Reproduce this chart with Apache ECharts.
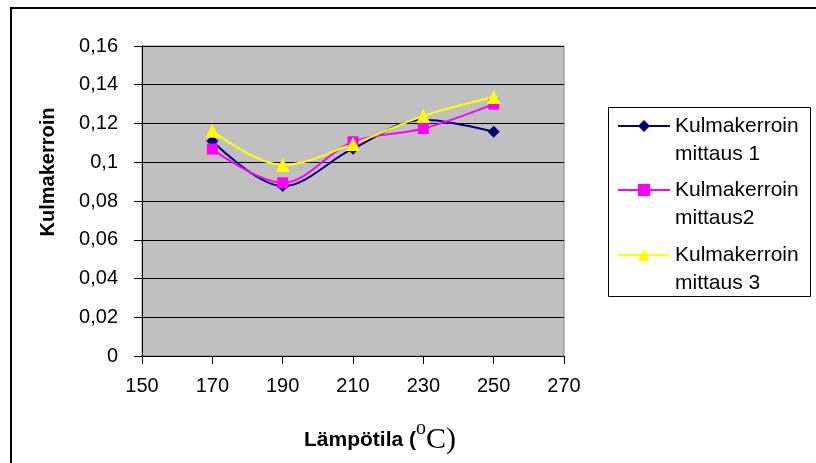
<!DOCTYPE html>
<html>
<head>
<meta charset="utf-8">
<script src="https://cdn.jsdelivr.net/npm/echarts@6/dist/echarts.min.js"></script>
<style>
  html, body { margin: 0; padding: 0; background: #fff; }
  #chart { width: 816px; height: 463px; }
</style>
</head>
<body>
<div id="chart"></div>
<script>
// Lämpötila (°C)
var temperatures = [170, 190, 210, 230, 250];
// Kulmakerroin per measurement
var mittaus1 = [0.111, 0.0877, 0.107, 0.122, 0.1157];
var mittaus2 = [0.1068, 0.0894, 0.1106, 0.1174, 0.1300];
var mittaus3 = [0.1162, 0.0986, 0.1094, 0.1239, 0.1337];
var seriesNames = ['Kulmakerroin\nmittaus 1', 'Kulmakerroin\nmittaus2', 'Kulmakerroin\nmittaus 3'];

var SANS = '"Liberation Sans", Arial, sans-serif';
var SERIF = '"Liberation Serif", "Times New Roman", serif';

function pairs(xs, ys) {
  return xs.map(function (x, i) { return [x, ys[i]]; });
}

function fmtComma(v) {
  return String(parseFloat(v.toFixed(4))).replace('.', ',');
}

function makeSeries(name, values, color, symbol, size) {
  return {
    name: name,
    type: 'line',
    smooth: 0.35,
    data: pairs(temperatures, values),
    symbol: symbol,
    symbolSize: size,
    lineStyle: { color: color, width: 2 },
    itemStyle: { color: color },
    emphasis: { disabled: true }
  };
}

function legendAt(name, top) {
  return {
    data: [name],
    left: 617,
    top: top,
    padding: 0,
    orient: 'vertical',
    itemWidth: 52,
    itemHeight: 15,
    selectedMode: false,
    formatter: function (n) { return '\n' + n; },
    textStyle: { fontFamily: SANS, fontSize: 21, color: '#000', lineHeight: 28 }
  };
}

var chart = echarts.init(document.getElementById('chart'), null, { renderer: 'canvas' });

chart.setOption({
  animation: false,
  backgroundColor: '#fff',
  grid: {
    left: 142, top: 46, right: 252, bottom: 107,
    show: true,
    backgroundColor: '#C0C0C0',
    borderColor: '#808080',
    borderWidth: 1
  },
  xAxis: {
    type: 'value',
    min: 150, max: 270, interval: 20,
    axisLine: { show: true, onZero: false, lineStyle: { color: '#000', width: 1 } },
    axisTick: { show: true, length: 8, lineStyle: { color: '#000' } },
    axisLabel: { color: '#000', fontFamily: SANS, fontSize: 20, margin: 20 },
    splitLine: { show: false },
    name: '{a|Lämpötila (}{s|o}{c|C)}',
    nameLocation: 'middle',
    nameGap: 63,
    nameTextStyle: {
      padding: [0, 0, 0, 54],
      rich: {
        a: { fontFamily: SANS, fontWeight: 'bold', fontSize: 21, color: '#000' },
        s: { fontFamily: SERIF, fontSize: 20, color: '#000', padding: [0, 0, 22, 0] },
        c: { fontFamily: SERIF, fontSize: 30, color: '#000' }
      }
    }
  },
  yAxis: {
    type: 'value',
    min: 0, max: 0.16, interval: 0.02,
    axisLine: { show: true, lineStyle: { color: '#000', width: 1 } },
    axisTick: { show: true, length: 8, lineStyle: { color: '#000' } },
    axisLabel: { color: '#000', fontFamily: SANS, fontSize: 20, margin: 24, formatter: fmtComma },
    splitLine: { show: true, lineStyle: { color: '#000', width: 1 } },
    name: 'Kulmakerroin',
    nameLocation: 'middle',
    nameGap: 84,
    nameTextStyle: { fontFamily: SANS, fontWeight: 'bold', fontSize: 20, color: '#000', padding: [0, 0, 0, 58] }
  },
  legend: [
    legendAt(seriesNames[0], 84),
    legendAt(seriesNames[1], 148),
    legendAt(seriesNames[2], 213)
  ],
  graphic: [
    {
      type: 'polyline',
      silent: true,
      shape: { points: [[11, 463], [11, 8], [816, 8]] },
      style: { stroke: '#000', lineWidth: 2, fill: null }
    },
    {
      type: 'rect',
      silent: true,
      shape: { x: 608.5, y: 107.5, width: 202, height: 189 },
      style: { stroke: '#000', lineWidth: 1, fill: null }
    }
  ],
  series: [
    makeSeries(seriesNames[0], mittaus1, '#000080', 'diamond', 12),
    makeSeries(seriesNames[1], mittaus2, '#FF00FF', 'rect', 11),
    makeSeries(seriesNames[2], mittaus3, '#FFFF00', 'triangle', 14)
  ]
});
</script>
</body>
</html>
